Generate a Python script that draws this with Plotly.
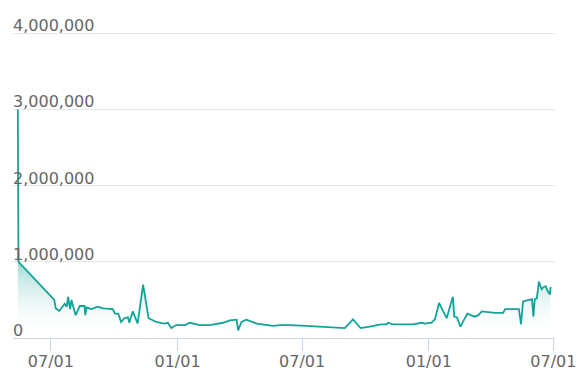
import plotly.graph_objects as go

dates = [
    "2021-05-14", "2021-05-15", "2021-07-06", "2021-07-08", "2021-07-13", "2021-07-17",
    "2021-07-21", "2021-07-24", "2021-07-26", "2021-07-29", "2021-07-31", "2021-08-02",
    "2021-08-06", "2021-08-12", "2021-08-19", "2021-08-20", "2021-08-22", "2021-08-29",
    "2021-09-07", "2021-09-15", "2021-09-29", "2021-10-02", "2021-10-07", "2021-10-11",
    "2021-10-16", "2021-10-21", "2021-10-23", "2021-10-28", "2021-10-31", "2021-11-04",
    "2021-11-12", "2021-11-20", "2021-12-01", "2021-12-13", "2021-12-18", "2021-12-23",
    "2021-12-30", "2022-01-12", "2022-01-19", "2022-02-02", "2022-02-07", "2022-02-17",
    "2022-03-08", "2022-03-18", "2022-03-28", "2022-03-30", "2022-04-04", "2022-04-11",
    "2022-04-26", "2022-05-20", "2022-05-30", "2022-06-13", "2022-07-07", "2022-08-01",
    "2022-08-15", "2022-09-01", "2022-09-13", "2022-09-24", "2022-10-07", "2022-10-24",
    "2022-11-01", "2022-11-03", "2022-11-10", "2022-12-09", "2022-12-22", "2022-12-26",
    "2023-01-05", "2023-01-10", "2023-01-16", "2023-01-27", "2023-02-05", "2023-02-07",
    "2023-02-11", "2023-02-16", "2023-02-26", "2023-03-09", "2023-03-14", "2023-03-19",
    "2023-04-07", "2023-04-19", "2023-04-22", "2023-05-12", "2023-05-15", "2023-05-18",
    "2023-05-31", "2023-06-02", "2023-06-04", "2023-06-07", "2023-06-10", "2023-06-14",
    "2023-06-17", "2023-06-20", "2023-06-22", "2023-06-26", "2023-06-27",
]
values = [
    3000000, 1000000, 500000, 390000, 355000, 400000,
    450000, 410000, 540000, 380000, 500000, 430000,
    300000, 420000, 420000, 300000, 400000, 380000,
    410000, 390000, 380000, 320000, 320000, 210000,
    260000, 270000, 200000, 350000, 270000, 190000,
    700000, 260000, 210000, 190000, 200000, 130000,
    170000, 170000, 200000, 170000, 170000, 170000,
    200000, 230000, 240000, 100000, 210000, 240000,
    190000, 160000, 170000, 170000, 160000, 150000,
    135000, 130000, 245000, 130000, 150000, 180000,
    180000, 200000, 180000, 180000, 200000, 190000,
    200000, 245000, 460000, 260000, 540000, 280000,
    270000, 150000, 320000, 280000, 300000, 350000,
    330000, 330000, 380000, 380000, 180000, 480000,
    510000, 280000, 510000, 520000, 740000, 640000,
    670000, 680000, 630000, 570000, 670000,
]

y_ticks = [0, 1000000, 2000000, 3000000, 4000000]
y_ticktext = ["0", "1,000,000", "2,000,000", "3,000,000", "4,000,000"]

LINE = "#14a398"
AXIS = "#ccd3e6"
TEXT = "#666666"
FONT = "DejaVu Sans"

fig = go.Figure(go.Scatter(
    x=dates, y=values, mode="lines",
    line=dict(color=LINE, width=1.8),
    fill="tozeroy",
    fillgradient=dict(
        type="vertical",
        start=0, stop=1100000,
        colorscale=[[0, "rgba(255,255,255,0.0)"], [1, "rgba(20,163,152,0.48)"]],
    ),
    hoverinfo="skip",
))

for v, t in zip(y_ticks, y_ticktext):
    fig.add_annotation(
        x=0, xref="paper", y=v, yref="y",
        text=t, showarrow=False,
        xanchor="left", yanchor="bottom", yshift=-4, xshift=-2,
        font=dict(family=FONT, size=16, color=TEXT),
    )

fig.update_layout(
    width=580, height=391,
    margin=dict(l=13, r=25, t=18, b=53, autoexpand=False),
    paper_bgcolor="white", plot_bgcolor="white",
    showlegend=False,
    font=dict(family=FONT, size=16, color=TEXT),
)
fig.update_xaxes(
    type="date",
    range=["2021-05-07", "2023-07-03 10:00"],
    tick0="2021-07-01", dtick="M6", tickformat="%m/%d",
    ticks="outside", ticklen=12, tickcolor=AXIS, tickwidth=1,
    ticklabelstandoff=-3,
    showline=True, linecolor=AXIS, linewidth=1,
    showgrid=False, zeroline=False, automargin=False,
    tickfont=dict(family=FONT, size=16, color=TEXT),
)
fig.update_yaxes(
    range=[0, 4200000],
    tickvals=y_ticks,
    showticklabels=False,
    showgrid=True, gridcolor="#e6e6e6", gridwidth=1,
    showline=False, zeroline=False, ticks="", automargin=False,
)

fig.write_html("out.html")
